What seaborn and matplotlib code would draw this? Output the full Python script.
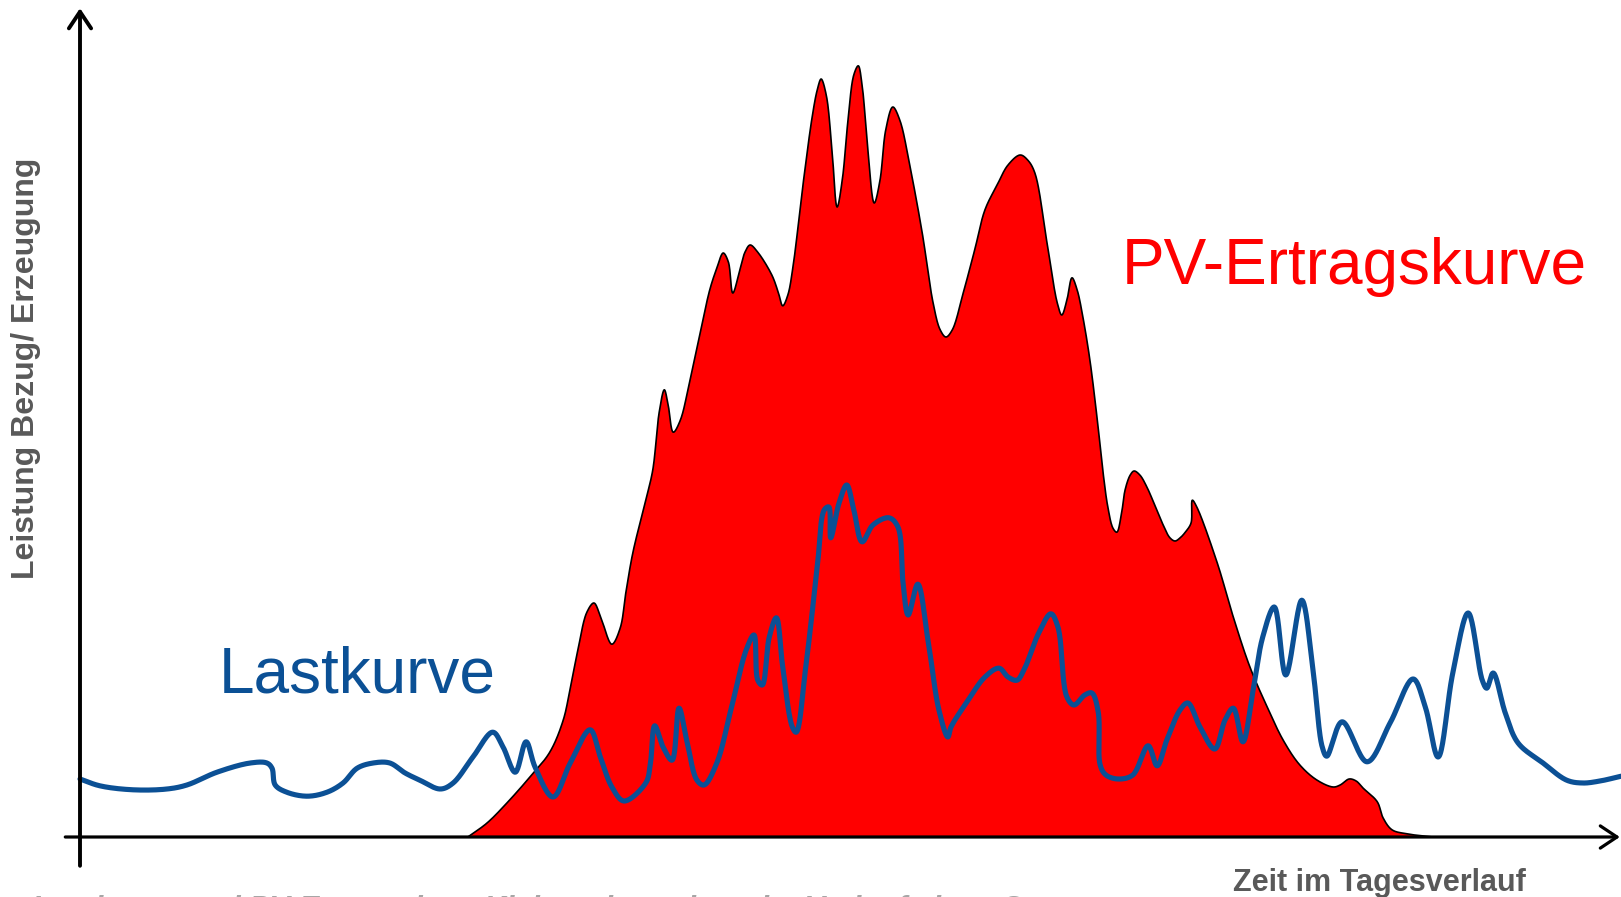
import numpy as np
import pandas as pd
import matplotlib
matplotlib.use("Agg")
import matplotlib.pyplot as plt
import seaborn as sns

# Lastkurve: Strombezug im Tagesverlauf (Stunde, relative Leistung in %)
last_h = [0.00, 0.31, 0.83, 1.36, 1.67, 2.14, 2.66, 2.92, 3.00, 3.05, 3.23, 3.55, 3.86, 4.11,
          4.33, 4.58, 4.84, 5.08, 5.31, 5.63, 5.83, 6.14, 6.45, 6.61, 6.80, 6.97, 7.11, 7.39,
          7.66, 7.97, 8.13, 8.31, 8.50, 8.84, 8.91, 8.98, 9.11, 9.25, 9.36, 9.48, 9.64, 9.75,
          9.95, 10.17, 10.41, 10.53, 10.59, 10.66, 10.77, 10.88, 10.98, 11.13, 11.19, 11.34,
          11.52, 11.63, 11.70, 11.73, 11.86, 11.98, 12.09, 12.22, 12.39, 12.64, 12.78, 12.86,
          12.94, 13.09, 13.25, 13.42, 13.56, 13.61, 13.86, 14.14, 14.36, 14.50, 14.64, 14.75,
          14.98, 15.17, 15.28, 15.42, 15.53, 15.70, 15.81, 15.91, 15.94, 16.03, 16.22, 16.45,
          16.69, 16.83, 16.98, 17.19, 17.31, 17.50, 17.73, 17.89, 18.02, 18.17, 18.33, 18.48,
          18.66, 18.84, 19.09, 19.27, 19.41, 19.48, 19.72, 20.11, 20.47, 20.83, 21.02, 21.22,
          21.45, 21.69, 21.91, 21.98, 22.08, 22.27, 22.47, 22.86, 23.23, 23.48, 23.75, 24.08]
last_p = [7.25, 6.4, 5.9, 6.0, 6.5, 8.1, 9.25, 9.25, 8.6, 6.5, 5.6, 5.1, 5.6, 6.75,
          8.6, 9.25, 9.25, 8.0, 7.1, 6.0, 6.75, 10.0, 13.1, 11.25, 8.1, 11.9, 8.75, 5.0,
          9.25, 13.4, 10.0, 6.25, 4.5, 6.75, 9.0, 13.9, 11.25, 9.6, 16.1, 12.1, 7.1, 6.5,
          9.25, 15.9, 23.4, 25.25, 19.6, 19.0, 25.0, 27.4, 21.25, 13.75, 13.1, 21.25,
          33.75, 40.9, 41.25, 37.4, 41.75, 44.0, 40.9, 36.9, 39.0, 39.9, 38.75, 31.75,
          27.75, 31.6, 24.6, 15.9, 12.5, 13.75, 16.9, 20.0, 21.1, 20.0, 19.6, 20.9,
          25.5, 27.9, 26.25, 17.5, 16.5, 17.75, 18.0, 15.6, 9.0, 7.75, 7.25, 7.75,
          11.4, 8.9, 12.1, 15.9, 16.75, 13.75, 11.0, 14.6, 16.1, 11.9, 18.4, 25.0,
          28.75, 20.25, 29.6, 20.5, 11.25, 10.1, 14.4, 9.4, 14.25, 19.75, 16.25, 10.0,
          20.5, 28.0, 19.6, 18.6, 20.5, 15.5, 11.75, 9.25, 7.1, 6.75, 7.0, 7.6]

# PV-Ertragskurve: Erzeugung der Photovoltaikanlage (Stunde, relative Leistung in %)
pv_h = [6.06, 6.36, 6.67, 7.03, 7.34, 7.55, 7.66, 7.78, 7.92, 8.03, 8.14, 8.31, 8.44, 8.53,
        8.64, 8.84, 8.95, 9.05, 9.13, 9.19, 9.27, 9.38, 9.53, 9.69, 9.84, 9.95, 10.05, 10.13,
        10.20, 10.31, 10.39, 10.47, 10.59, 10.81, 10.91, 10.98, 11.06, 11.14, 11.30, 11.44,
        11.52, 11.58, 11.66, 11.75, 11.83, 11.91, 12.00, 12.09, 12.16, 12.22, 12.31, 12.41,
        12.50, 12.59, 12.70, 12.81, 12.97, 13.16, 13.33, 13.44, 13.53, 13.63, 13.80, 13.98,
        14.14, 14.33, 14.50, 14.69, 14.81, 14.92, 15.11, 15.27, 15.34, 15.42, 15.50, 15.58,
        15.67, 15.78, 15.89, 16.00, 16.06, 16.14, 16.20, 16.27, 16.33, 16.41, 16.47, 16.56,
        16.67, 16.91, 17.03, 17.11, 17.19, 17.27, 17.36, 17.38, 17.45, 17.77, 18.02, 18.28,
        18.55, 18.80, 19.06, 19.33, 19.58, 19.69, 19.83, 19.94, 20.05, 20.27, 20.36, 20.50,
        20.73, 21.14]
pv_p = [0.0, 1.75, 4.25, 7.5, 10.6, 14.6, 18.6, 23.4, 28.1, 29.25, 27.4, 24.1, 26.1, 30.6,
        35.6, 42.1, 45.9, 53.1, 55.9, 54.0, 50.6, 52.1, 57.1, 63.0, 68.4, 71.1, 73.0, 71.9,
        68.0, 70.9, 73.1, 74.0, 73.1, 70.25, 68.1, 66.4, 67.75, 71.25, 81.75, 90.0,
        93.4, 94.75, 92.75, 85.9, 78.75, 82.1, 89.6, 95.25, 96.4, 94.0, 85.9, 79.25,
        82.1, 88.4, 91.25, 89.6, 83.75, 75.5, 66.75, 63.4, 62.5, 63.4, 68.0, 73.4,
        78.4, 81.5, 84.0, 85.25, 84.6, 83.0, 74.25, 66.75, 65.25, 67.1, 69.9, 68.4,
        65.0, 59.6, 52.5, 44.6, 41.25, 38.6, 38.1, 40.25, 43.4, 45.25, 45.75, 45.25,
        43.75, 39.25, 37.4, 37.0, 37.4, 38.1, 39.25, 42.1, 41.25, 34.25, 27.5, 21.25,
        16.25, 12.1, 9.0, 7.1, 6.25, 6.5, 7.25, 7.0, 6.1, 4.4, 2.4, 0.9,
        0.4, 0.0]

BLUE = "#0B5095"
RED = "#FF0000"
GRAY = "#595959"

sns.set_theme(style="white")
plt.rcParams["font.family"] = ["Liberation Sans", "DejaVu Sans"]

fig = plt.figure(figsize=(16.21, 8.97), dpi=100)
ax = fig.add_axes([0, 0, 1, 1])
ax.set_xlim(-1.25, 24.078)
ax.set_ylim(-7.5, 104.625)
ax.axis("off")


def smooth(ax, xs, ys, n=24, alpha=0.5):
    """Centripetal Catmull-Rom spline through the points, computed in display space."""
    pts = ax.transData.transform(np.column_stack([xs, ys]))
    pts = np.vstack([2 * pts[0] - pts[1], pts, 2 * pts[-1] - pts[-2]])
    out = [pts[1:2]]
    for i in range(1, len(pts) - 2):
        p0, p1, p2, p3 = pts[i - 1], pts[i], pts[i + 1], pts[i + 2]
        t0 = 0.0
        t1 = t0 + max(np.linalg.norm(p1 - p0), 1e-6) ** alpha
        t2 = t1 + max(np.linalg.norm(p2 - p1), 1e-6) ** alpha
        t3 = t2 + max(np.linalg.norm(p3 - p2), 1e-6) ** alpha
        t = np.linspace(t1, t2, n)[1:, None]
        a1 = (t1 - t) / (t1 - t0) * p0 + (t - t0) / (t1 - t0) * p1
        a2 = (t2 - t) / (t2 - t1) * p1 + (t - t1) / (t2 - t1) * p2
        a3 = (t3 - t) / (t3 - t2) * p2 + (t - t2) / (t3 - t2) * p3
        b1 = (t2 - t) / (t2 - t0) * a1 + (t - t0) / (t2 - t0) * a2
        b2 = (t3 - t) / (t3 - t1) * a2 + (t - t1) / (t3 - t1) * a3
        c = (t2 - t) / (t2 - t1) * b1 + (t - t1) / (t2 - t1) * b2
        out.append(c)
    return ax.transData.inverted().transform(np.vstack(out))


pv_curve = smooth(ax, pv_h, pv_p)
last_curve = smooth(ax, last_h, last_p)
pv_df = pd.DataFrame({"Stunde": pv_curve[:, 0], "Leistung": pv_curve[:, 1]})
last_df = pd.DataFrame({"Stunde": last_curve[:, 0], "Leistung": last_curve[:, 1]})

# PV-Ertrag als rote Fläche mit schwarzer Kontur
ax.fill(pv_df["Stunde"], pv_df["Leistung"], color=RED, lw=0, zorder=1)
sns.lineplot(data=pv_df, x="Stunde", y="Leistung", sort=False, estimator=None,
             color="black", lw=1.2, ax=ax, legend=False, zorder=2)

# Lastkurve
sns.lineplot(data=last_df, x="Stunde", y="Leistung", sort=False, estimator=None,
             color=BLUE, lw=3.7, ax=ax, legend=False, zorder=3,
             solid_joinstyle="round", solid_capstyle="round")

# Achsen mit offenen Pfeilspitzen
arrow = dict(arrowstyle="->,head_length=0.3,head_width=0.2", lw=2.8, color="black",
             mutation_scale=40, shrinkA=0, shrinkB=0)
ax.annotate("", xy=(0, 103.6), xytext=(0, -3.6), arrowprops=arrow,
            annotation_clip=False, zorder=5)
ax.annotate("", xy=(24.06, 0), xytext=(-0.23, 0), arrowprops=dict(arrow, lw=2.3),
            annotation_clip=False, zorder=5)

# Beschriftungen
ax.text(2.17, 18.05, "Lastkurve", color=BLUE, fontsize=46, ha="left", va="baseline")
ax.text(16.28, 69.1, "PV-Ertragskurve", color=RED, fontsize=46, ha="left", va="baseline")
ax.text(-0.84, 58.6, "Leistung Bezug/ Erzeugung", color=GRAY, fontsize=23,
        fontweight="bold", rotation=90, ha="center", va="center")
ax.text(20.3, -6.75, "Zeit im Tagesverlauf", color=GRAY, fontsize=22,
        fontweight="bold", ha="center", va="baseline")
ax.text(-0.75, -10.1,
        "Lastkurve und PV-Ertrag eines Kleinverbrauchers im Verlauf eines Sonnentages",
        color="#A6A6A6", fontsize=22, fontweight="bold", fontstyle="italic",
        ha="left", va="baseline", clip_on=False)

fig.savefig("out.png", dpi=100)
